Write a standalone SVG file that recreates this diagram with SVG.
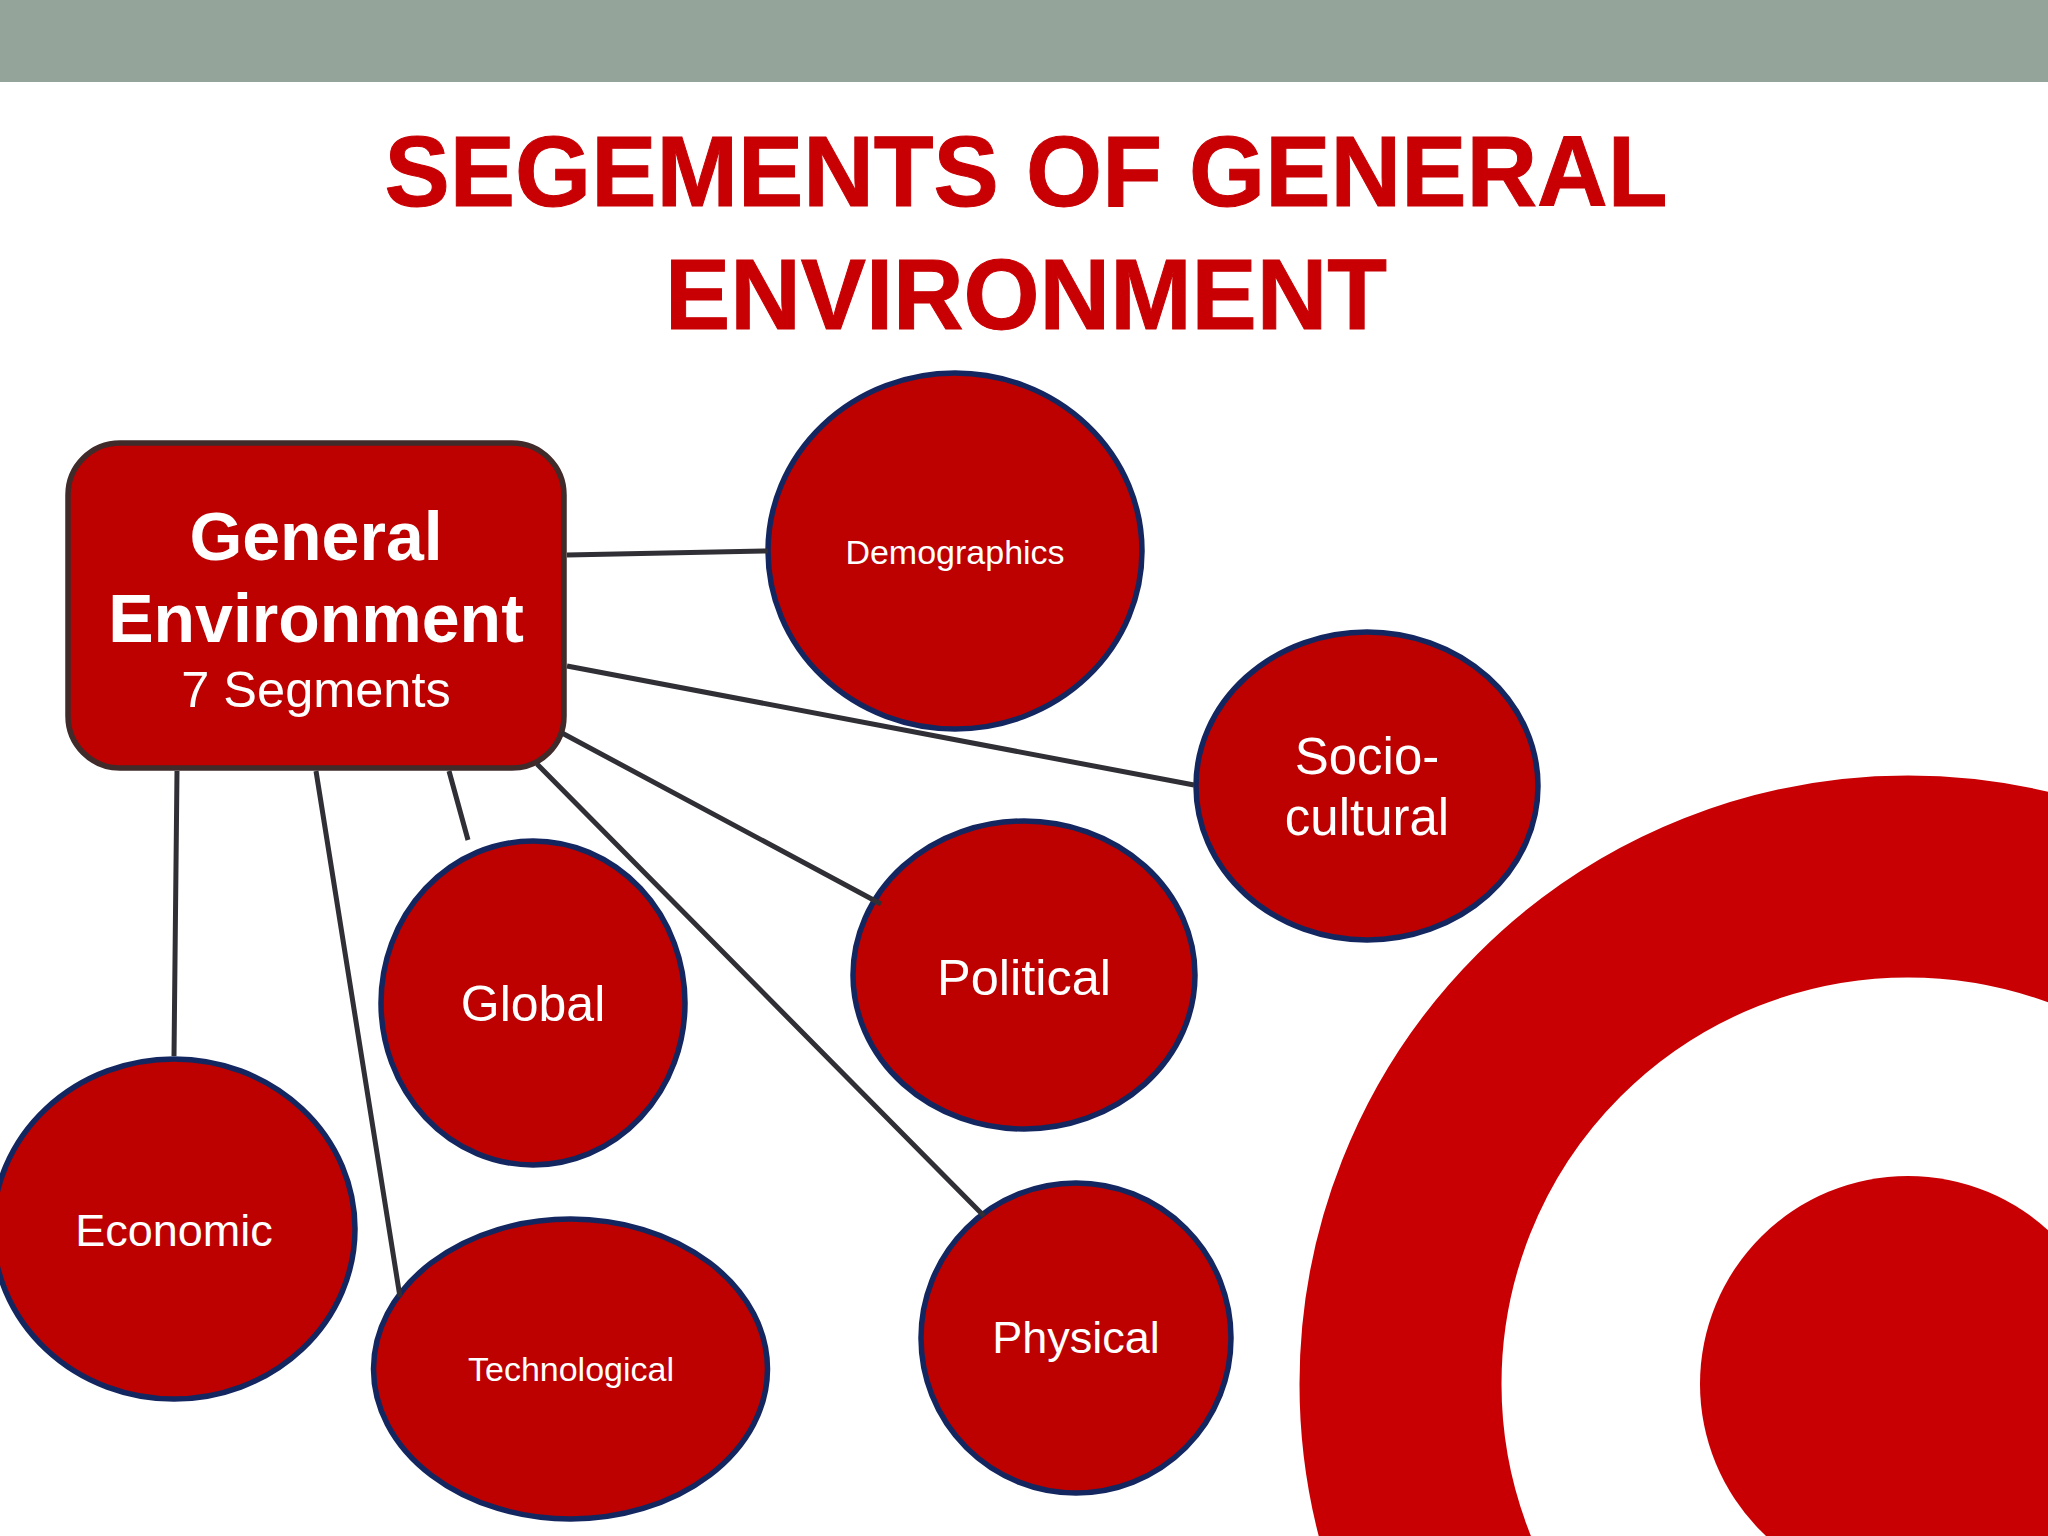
<svg xmlns="http://www.w3.org/2000/svg" width="2048" height="1536" viewBox="0 0 2048 1536">
<style>
text{font-family:"Liberation Sans",Arial,sans-serif;fill:#fff;text-anchor:middle}
.t{fill:#c80004;stroke:#c80004;stroke-width:1;font-size:101px;font-weight:700}
.n{fill:#bd0000;stroke:#14265f;stroke-width:5.500}
.c{stroke:#2f2f35;stroke-width:5;fill:none}
.r{fill:none;stroke:#c80004;stroke-width:202}
</style>
<rect width="2048" height="1536" fill="#fff"/>
<rect width="2048" height="82" fill="#95a49b"/>
<g id="target">
<circle cx="1908" cy="1384" r="507.500" class="r"/>
<circle cx="1908" cy="1384" r="208" fill="#c80004"/>
</g>
<text class="t" x="1026" y="206" textLength="1283" lengthAdjust="spacingAndGlyphs">SEGEMENTS OF GENERAL</text>
<text class="t" x="1026" y="329" textLength="722" lengthAdjust="spacingAndGlyphs">ENVIRONMENT</text>
<g id="general"><rect x="68" y="443" width="496" height="325" rx="52" fill="#bd0000" stroke="#402a2a" stroke-width="5.500"/>
<text x="316" y="560" font-size="68" font-weight="700">General</text>
<text x="316" y="642" font-size="68" font-weight="700">Environment</text>
<text x="316" y="707" font-size="50.500">7 Segments</text></g>
<g id="demographics"><ellipse class="n" cx="955" cy="551" rx="187" ry="178"/><text x="955" y="564" font-size="34">Demographics</text></g>
<g id="sociocultural"><ellipse class="n" cx="1367" cy="786" rx="171" ry="154"/><text x="1367" y="774" font-size="51">Socio-</text><text x="1367" y="835" font-size="51">cultural</text></g>
<g id="political"><ellipse class="n" cx="1024" cy="975" rx="171" ry="154"/><text x="1024" y="995" font-size="50.500">Political</text></g>
<g id="global"><ellipse class="n" cx="533" cy="1003" rx="152" ry="162"/><text x="533" y="1021" font-size="50">Global</text></g>
<g id="economic"><ellipse class="n" cx="174" cy="1229" rx="181" ry="170"/><text x="174" y="1246" font-size="45">Economic</text></g>
<g id="technological"><ellipse class="n" cx="570.500" cy="1369" rx="197" ry="150"/><text x="571" y="1381" font-size="34">Technological</text></g>
<g id="physical"><ellipse class="n" cx="1076" cy="1338" rx="155" ry="155"/><text x="1076" y="1353" font-size="45">Physical</text></g>
<g id="connectors">
<path class="c" d="M567 555L768 551M567 666L1194 785M562 733L881 904M537 764L984 1216M449 771L468 840M316 771L400 1297M177 771L174 1056"/>
</g>
</svg>
